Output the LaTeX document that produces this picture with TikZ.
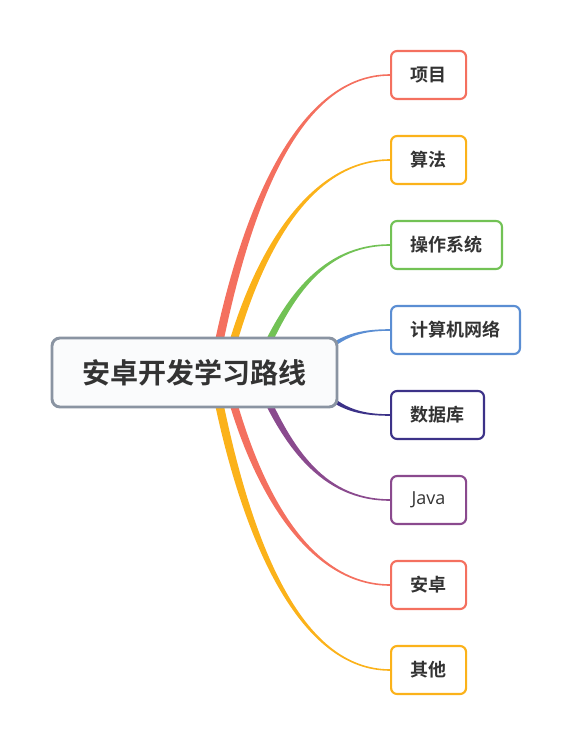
\documentclass[tikz,border=0pt]{standalone}
\usepackage{fontspec}
\newfontfamily\cjk{Noto Sans CJK SC}[BoldFont={Noto Sans CJK SC Bold}]
\newfontfamily\latinf{Open Sans}
\usetikzlibrary{calc}
\pgfdeclarelayer{bg}
\pgfsetlayers{bg,main}
\definecolor{cred}{HTML}{F4705F}
\definecolor{cyel}{HTML}{FBB21A}
\definecolor{cgrn}{HTML}{72C255}
\definecolor{cblu}{HTML}{5B8ED3}
\definecolor{cind}{HTML}{3C3288}
\definecolor{cpur}{HTML}{8A4A8E}
\definecolor{rootbd}{HTML}{8A94A2}
\definecolor{rootfill}{HTML}{FAFBFC}
\definecolor{txt}{HTML}{333333}
\newcommand{\tbranch}[6]{%
  \coordinate (tS) at (#2);
  \coordinate (tE) at (#5);
  \coordinate (tc1) at ($(tS)+(#3)$);
  \coordinate (tc2) at ($(tE)+(#4,0)$);
  \coordinate (a1) at ($(tS)!#6!90:(tc1)$);
  \coordinate (a2) at ($(tS)!#6!-90:(tc1)$);
  \coordinate (b1) at ($(tE)!0.6pt!-90:(tc2)$);
  \coordinate (b2) at ($(tE)!0.6pt!90:(tc2)$);
  \fill[#1] (a1) .. controls ($(tc1)+(a1)-(tS)$) and ($(tc2)+(b1)-(tE)$) .. (b1)
    -- (b2) .. controls ($(tc2)+(b2)-(tE)$) and ($(tc1)+(a2)-(tS)$) .. (a2) -- cycle;
}
\begin{document}
\begin{tikzpicture}[x=0.75pt,y=-0.75pt,
  topic/.style={draw=#1, line width=1.6pt, rounded corners=4.5pt, fill=white,
    minimum width=56.25pt, minimum height=36pt, inner xsep=14.6pt, inner ysep=0pt,
    text=txt, font=\cjk\bfseries\fontsize{13.5pt}{13.5pt}\selectfont, anchor=west},
  rootbox/.style={draw=rootbd, line width=2.2pt, rounded corners=6pt, fill=rootfill,
    minimum width=213.75pt, minimum height=51.75pt, text=txt,
    font=\cjk\bfseries\fontsize{21pt}{21pt}\selectfont}]
\useasboundingbox (0,0) rectangle (570,745);
\node[rootbox] (root) at (194.5,372.5) {安卓开发学习路线};
\node[topic=cred] (n1) at (390,75) {项目};
\node[topic=cyel] (n2) at (390,160) {算法};
\node[topic=cgrn] (n3) at (390,245) {操作系统};
\node[topic=cblu] (n4) at (390,330) {计算机网络};
\node[topic=cind] (n5) at (390,415) {数据库};
\node[topic=cpur, font=\latinf\fontsize{13.5pt}{13.5pt}\selectfont] (n6) at (390,500) {Java};
\node[topic=cred] (n7) at (390,585) {安卓};
\node[topic=cyel] (n8) at (390,670) {其他};
\coordinate (sR) at ($(root.center)+(18.5,0)$);
\coordinate (sY) at ($(root.center)+(30.5,0)$);
\coordinate (sG) at ($(root.center)+(60.5,0)$);
\coordinate (sBu) at ($(root.center)+(115.5,-7.5)$);
\coordinate (sBd) at ($(root.center)+(115.5,7.5)$);
\begin{pgfonlayer}{bg}
\tbranch{cred}{sR}{32,-172}{-89}{n1.west}{3.2pt}
\tbranch{cyel}{sY}{30,-122}{-79}{n2.west}{3.0pt}
\tbranch{cgrn}{sG}{30,-72}{-69}{n3.west}{2.7pt}
\tbranch{cblu}{sBu}{25,-25}{-39}{n4.west}{2.0pt}
\tbranch{cind}{sBd}{25,25}{-39}{n5.west}{2.0pt}
\tbranch{cpur}{sG}{30,72}{-69}{n6.west}{2.7pt}
\tbranch{cred}{sY}{30,122}{-79}{n7.west}{3.0pt}
\tbranch{cyel}{sR}{32,172}{-89}{n8.west}{3.2pt}
\end{pgfonlayer}
\end{tikzpicture}
\end{document}
